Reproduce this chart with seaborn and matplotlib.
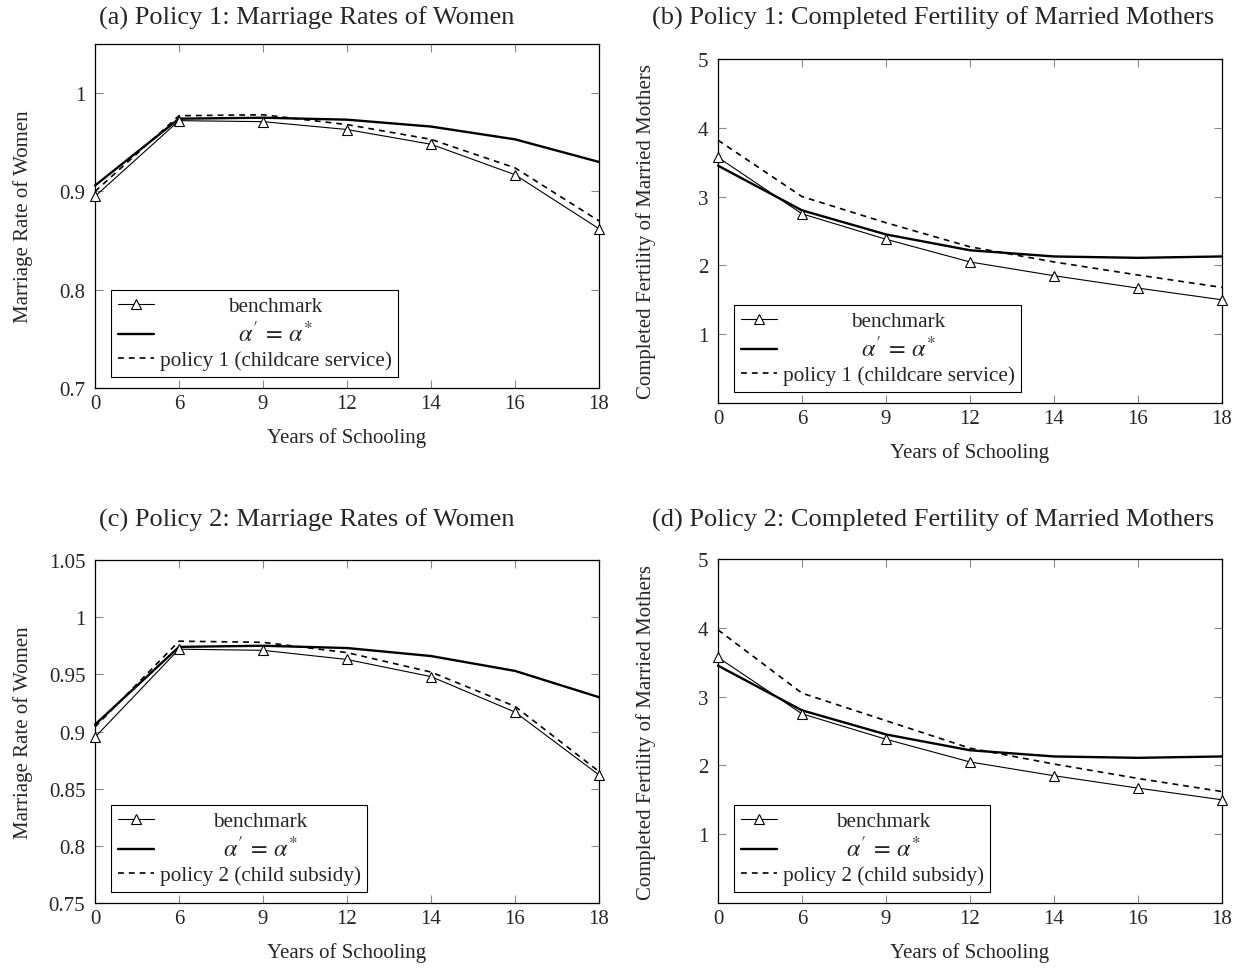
import numpy as np
import pandas as pd
import matplotlib
matplotlib.use('Agg')
import matplotlib.pyplot as plt
import seaborn as sns
from matplotlib.ticker import FormatStrFormatter

sns.set_style('ticks')
plt.rcParams['font.family'] = ['Liberation Serif', 'DejaVu Serif']
plt.rcParams['mathtext.fontset'] = 'stix'

schooling = ['0', '6', '9', '12', '14', '16', '18']

marriage_benchmark = [0.895, 0.972, 0.971, 0.963, 0.948, 0.917, 0.862]
marriage_alpha = [0.906, 0.974, 0.975, 0.973, 0.966, 0.953, 0.930]
marriage_policy1 = [0.900, 0.977, 0.978, 0.968, 0.953, 0.924, 0.870]
marriage_policy2 = [0.904, 0.979, 0.978, 0.969, 0.952, 0.922, 0.865]

fertility_benchmark = [3.57, 2.75, 2.38, 2.05, 1.85, 1.67, 1.50]
fertility_alpha = [3.45, 2.80, 2.45, 2.22, 2.13, 2.11, 2.13]
fertility_policy1 = [3.82, 3.00, 2.62, 2.27, 2.05, 1.86, 1.68]
fertility_policy2 = [3.97, 3.05, 2.65, 2.25, 2.02, 1.81, 1.62]

titles = ['(a) Policy 1: Marriage Rates of Women',
          '(b) Policy 1: Completed Fertility of Married Mothers',
          '(c) Policy 2: Marriage Rates of Women',
          '(d) Policy 2: Completed Fertility of Married Mothers']
policy_labels = ['policy 1 (childcare service)', 'policy 2 (child subsidy)']

W, H = 1243, 970
fig = plt.figure(figsize=(W / 100, H / 100), dpi=100)

# axes boxes in pixels: left, top, right, bottom
boxes = [(95, 45, 599, 389), (718, 60, 1222, 404),
         (95, 561, 599, 904), (718, 560, 1222, 904)]
axes = []
for l, t, r, b in boxes:
    axes.append(fig.add_axes([l / W, (H - b) / H, (r - l) / W, (b - t) / H]))

panels = [
    (marriage_benchmark, marriage_alpha, marriage_policy1, policy_labels[0],
     'Marriage Rate of Women', (0.7, 1.05), [0.7, 0.8, 0.9, 1.0]),
    (fertility_benchmark, fertility_alpha, fertility_policy1, policy_labels[0],
     'Completed Fertility of Married Mothers', (0, 5), [1, 2, 3, 4, 5]),
    (marriage_benchmark, marriage_alpha, marriage_policy2, policy_labels[1],
     'Marriage Rate of Women', (0.75, 1.05), [0.75, 0.8, 0.85, 0.9, 0.95, 1.0, 1.05]),
    (fertility_benchmark, fertility_alpha, fertility_policy2, policy_labels[1],
     'Completed Fertility of Married Mothers', (0, 5), [1, 2, 3, 4, 5]),
]

fs = 15
lfs = 15.3
for ax, (bench, alpha, pol, pol_label, ylabel, ylim, yticks) in zip(axes, panels):
    df = pd.DataFrame({'pos': np.arange(len(schooling)), 'benchmark': bench,
                       'alpha': alpha, 'policy': pol})
    sns.lineplot(data=df, x='pos', y='policy', ax=ax, color='black', lw=1.2,
                 linestyle=(0, (3.5, 3)), label=pol_label, clip_on=False, zorder=3)
    sns.lineplot(data=df, x='pos', y='alpha', ax=ax, color='black', lw=1.7,
                 label=r"$\alpha'\,=\,\alpha^{*}$", clip_on=False, zorder=3)
    sns.lineplot(data=df, x='pos', y='benchmark', ax=ax, color='black', lw=0.8,
                 marker='^', markersize=6.5, markerfacecolor='white',
                 markeredgecolor='black', markeredgewidth=0.8, label='benchmark',
                 clip_on=False, zorder=4)

    ax.set_xlim(0, len(schooling) - 1)
    ax.set_xticks(np.arange(len(schooling)))
    ax.set_xticklabels(schooling)
    ax.set_ylim(*ylim)
    ax.set_yticks(yticks)
    ax.yaxis.set_major_formatter(FormatStrFormatter('%g'))
    ax.set_xlabel('Years of Schooling', fontsize=fs)
    ax.set_ylabel(ylabel, fontsize=fs)
    ax.xaxis.set_label_coords(0.5, -0.115)
    ax.yaxis.set_label_coords(-0.124, 0.5)
    ax.tick_params(direction='in', length=6, width=0.8, color='#8a8a8a',
                   top=True, right=True, labelsize=fs)
    ax.tick_params(axis='x', pad=4.5)
    ax.tick_params(axis='y', pad=7)
    for s in ax.spines.values():
        s.set_color('black')
        s.set_linewidth(0.9)

    # legend order: benchmark, alpha, policy
    handles, labels = ax.get_legend_handles_labels()
    order = [2, 1, 0]
    leg = ax.legend([handles[i] for i in order], [labels[i] for i in order],
                    loc='lower left', bbox_to_anchor=(0.032, 0.032),
                    borderaxespad=0, fontsize=lfs, fancybox=False,
                    edgecolor='black', framealpha=1, handlelength=1.7,
                    labelspacing=0.2, borderpad=0.32, handletextpad=0.26)
    leg.set_zorder(5)
    leg.get_frame().set_linewidth(0.8)
    leg.get_texts()[1].set_fontsize(17.5)

# centre the legend entries like the original
fig.canvas.draw()
renderer = fig.canvas.get_renderer()
for ax in axes:
    texts = ax.get_legend().get_texts()
    widths = [t.get_window_extent(renderer).width for t in texts]
    widest = max(widths)
    for t, w in zip(texts, widths):
        t.set_position(((widest - w) / 2, 0))

title_pos = [(307, 18), (933, 18), (307, 520), (933, 520)]
for (x, y), title in zip(title_pos, titles):
    fig.text(x / W, 1 - y / H, title, ha='center', va='center', fontsize=19)

fig.savefig('out.png', dpi=100)
